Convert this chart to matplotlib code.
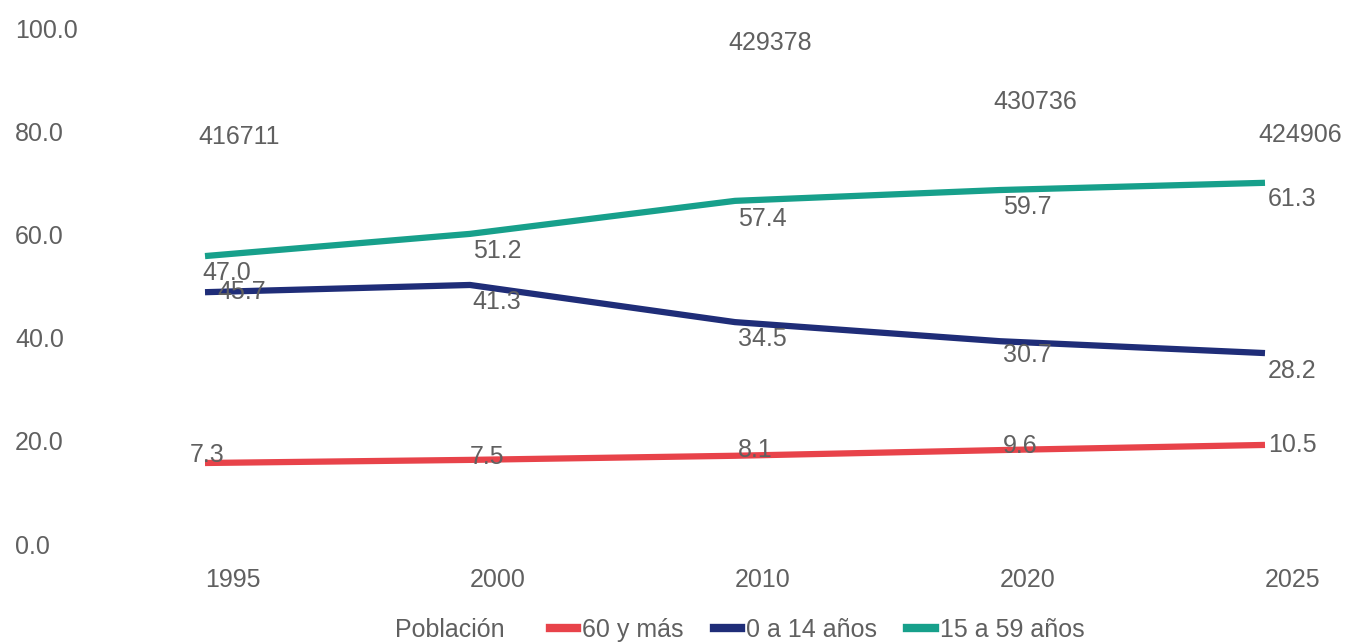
import matplotlib
matplotlib.use("Agg")
import matplotlib.pyplot as plt
from matplotlib.lines import Line2D
#======================================================================#
## chart data
years = ["1995", "2000", "2010", "2020", "2025"]
# line heights (left axis, 0-100)
line_60 = [15.7, 16.3, 17.1, 18.2, 19.2]
line_0_14 = [48.8, 50.2, 43.0, 39.3, 37.0]
line_15_59 = [55.8, 60.1, 66.5, 68.6, 70.0]
# data labels as printed on the chart
lab_60 = ["7.3", "7.5", "8.1", "9.6", "10.5"]
lab_0_14 = ["45.7", "41.3", "34.5", "30.7", "28.2"]
lab_15_59 = ["47.0", "51.2", "57.4", "59.7", "61.3"]
poblacion = ["416711", None, "429378", "430736", "424906"]
#======================================================================#
## plot parameters
pobl_ypos = [78.9, None, 97.1, 85.7, 79.3]      # where the population labels sit
c_red = "#e8434a"
c_navy = "#1f2d78"
c_teal = "#17a08b"
c_text = "#606060"
fs = 18
lw = 4.5
plt.rcParams["font.family"] = ["Liberation Sans", "DejaVu Sans"]
#======================================================================#
def main():
    fig = plt.figure(figsize=(13.49, 6.42), dpi=100)
    ax = fig.add_axes([90/1349, 98/642, 1250/1349, 516/642])
    x = list(range(len(years)))

    ax.plot(x, line_60, color=c_red, lw=lw, solid_capstyle="butt", label="60 y más")
    ax.plot(x, line_0_14, color=c_navy, lw=lw, solid_capstyle="butt", label="0 a 14 años")
    ax.plot(x, line_15_59, color=c_teal, lw=lw, solid_capstyle="butt", label="15 a 59 años")

    # data labels: (dx, dy) offsets in points
    off_red = [(-11, 6), (0, 2), (2, 4), (2, 3), (2, 0)]
    off_navy = [(9, 0), (2, -12), (2, -12), (2, -10), (2, -13)]
    off_teal = [(-2, -12), (2, -12), (2, -13), (2, -12), (2, -12)]
    for vals, labs, offs in [(line_60, lab_60, off_red), (line_0_14, lab_0_14, off_navy),
                             (line_15_59, lab_15_59, off_teal)]:
        for i in range(len(years)):
            ax.annotate(labs[i], (x[i], vals[i]), xytext=offs[i], textcoords="offset points",
                        ha="left", va="center", fontsize=fs, color=c_text)
    for i in range(len(years)):
        if poblacion[i] is not None:
            ax.annotate(poblacion[i], (x[i], pobl_ypos[i]), xytext=(-5, 0), textcoords="offset points",
                        ha="left", va="center", fontsize=fs, color=c_text)

    ax.set_xlim(-115/265, 4 + 75/265)
    ax.set_ylim(0, 100)
    ax.set_yticks([0, 20, 40, 60, 80, 100])
    ax.set_yticklabels(["%.1f" % v for v in [0, 20, 40, 60, 80, 100]])
    ax.set_xticks(x)
    ax.set_xticklabels(years)
    ax.tick_params(axis="y", length=0, pad=54, labelsize=fs, labelcolor=c_text)
    ax.tick_params(axis="x", length=0, pad=17, labelsize=fs, labelcolor=c_text)
    for t in ax.get_yticklabels():
        t.set_horizontalalignment("left")
    for t in ax.get_xticklabels():
        t.set_horizontalalignment("left")
    for s in ax.spines.values():
        s.set_visible(False)

    fig.text(395/1349, 1 - 630/642, "Población", ha="left", va="center", fontsize=fs, color=c_text)
    handles = [Line2D([], [], color=c, lw=6) for c in (c_red, c_navy, c_teal)]
    fig.legend(handles, ["60 y más", "0 a 14 años", "15 a 59 años"], ncol=3, frameon=False,
               loc="center", bbox_to_anchor=(817/1349, 1 - 630/642), fontsize=fs,
               labelcolor=c_text, handlelength=1.1, handletextpad=0.2, columnspacing=1.2,
               borderpad=0, borderaxespad=0)

    fig.savefig("out.png", dpi=100)
#======================================================================#
if __name__ == '__main__':
    main()
